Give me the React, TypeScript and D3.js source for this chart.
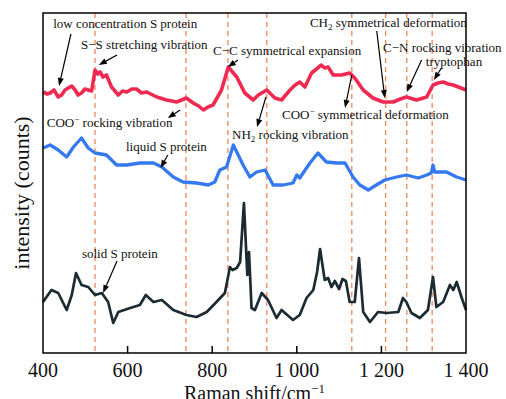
import * as d3 from "d3";

// Raman shift (cm^-1) and intensity readings for each spectrum
const redShift = [400, 410, 417, 426, 436, 444, 452, 468, 476, 483, 491, 499, 515, 523, 529, 535, 542, 550, 562, 578, 588, 598, 610, 621, 633, 645, 669, 692, 716, 739, 755, 768, 779, 790, 802, 822, 838, 858, 877, 897, 909, 929, 948, 964, 984, 996, 1007, 1019, 1035, 1058, 1066, 1074, 1086, 1106, 1125, 1137, 1157, 1180, 1204, 1228, 1245, 1259, 1283, 1307, 1322, 1334, 1346, 1358, 1370, 1382, 1394, 1400];
const redValue = [261, 259, 260, 263, 256, 258, 263, 267, 263, 258, 260, 264, 262, 283, 279, 281, 276, 278, 266, 258, 262, 261, 264, 264, 260, 261, 256, 253, 251, 255, 250, 247, 243, 246, 248, 263, 286, 276, 260, 253, 258, 263, 255, 253, 263, 268, 271, 266, 280, 288, 285, 286, 278, 278, 280, 275, 263, 255, 251, 251, 254, 256, 253, 256, 268, 270, 271, 269, 268, 266, 264, 263];

const blueShift = [400, 417, 436, 456, 472, 491, 507, 523, 550, 574, 598, 629, 661, 681, 708, 731, 763, 791, 806, 818, 834, 850, 873, 889, 905, 925, 944, 968, 991, 1000, 1007, 1031, 1050, 1070, 1094, 1114, 1133, 1149, 1169, 1188, 1208, 1236, 1259, 1287, 1307, 1318, 1322, 1326, 1354, 1378, 1400];
const blueValue = [205, 208, 203, 196, 206, 215, 205, 200, 198, 188, 188, 190, 190, 186, 176, 171, 170, 168, 171, 183, 186, 208, 188, 176, 181, 183, 168, 168, 170, 178, 175, 190, 200, 191, 190, 190, 176, 168, 163, 168, 173, 176, 178, 175, 178, 180, 188, 181, 181, 176, 173];

const blackShift = [400, 420, 436, 456, 468, 478, 491, 507, 523, 539, 554, 566, 578, 606, 629, 643, 661, 681, 708, 739, 763, 787, 810, 830, 842, 848, 858, 866, 875, 883, 887, 893, 901, 917, 932, 952, 964, 991, 1007, 1023, 1039, 1048, 1055, 1066, 1074, 1082, 1090, 1100, 1108, 1116, 1125, 1137, 1147, 1157, 1173, 1192, 1212, 1240, 1251, 1259, 1271, 1291, 1310, 1322, 1330, 1346, 1362, 1370, 1378, 1390, 1400];
const blackValue = [51, 63, 60, 43, 58, 80, 68, 66, 58, 60, 51, 30, 41, 45, 48, 58, 51, 53, 43, 38, 36, 41, 51, 60, 86, 83, 85, 91, 150, 78, 101, 45, 43, 60, 53, 35, 43, 33, 38, 55, 63, 81, 104, 73, 75, 66, 72, 64, 74, 72, 51, 51, 95, 41, 31, 41, 40, 41, 55, 51, 40, 35, 43, 76, 46, 51, 68, 63, 71, 55, 43];

const peakLines = [523, 738, 837, 929, 1130, 1210, 1260, 1320];
const xTicks = [400, 600, 800, 1000, 1200, 1400];

const W = 506;
const H = 399;
const margin = { top: 13, right: 40, bottom: 46, left: 43 };

const x = d3.scaleLinear().domain([400, 1400]).range([margin.left, W - margin.right]);
const y = d3.scaleLinear().domain([0, 340]).range([H - margin.bottom, margin.top]);

const line = d3
  .line<[number, number]>()
  .x((d) => x(d[0]))
  .y((d) => y(d[1]));

const zip = (a: number[], b: number[]) => a.map((v, i) => [v, b[i]] as [number, number]);

const series = [
  { name: "low concentration", pts: zip(redShift, redValue), color: "#ef2a52", width: 3.6 },
  { name: "liquid", pts: zip(blueShift, blueValue), color: "#3479ef", width: 3.3 },
  { name: "solid", pts: zip(blackShift, blackValue), color: "#1b2b31", width: 2.7 },
];

const fmt = (d: number) =>
  d >= 1000 ? `${Math.floor(d / 1000)} ${String(d % 1000).padStart(3, "0")}` : String(d);

type Part = { t: string; sup?: boolean; sub?: boolean };
type Note = {
  parts: Part[];
  tx: number;
  ty: number;
  from?: [number, number];
  to?: [number, number];
};

const notes: Note[] = [
  { parts: [{ t: "low concentration S protein" }], tx: 424, ty: 325, from: [466, 319], to: [438, 267] },
  { parts: [{ t: "S−S stretching vibration" }], tx: 490, ty: 304, from: [575, 298], to: [532, 288] },
  { parts: [{ t: "C−C symmetrical expansion" }], tx: 802, ty: 298, from: [861, 293], to: [837, 286] },
  { parts: [{ t: "CH" }, { t: "2", sub: true }, { t: " symmetrical deformation" }], tx: 1031, ty: 326, from: [1189, 322], to: [1208, 255] },
  { parts: [{ t: "C−N rocking vibration" }], tx: 1204, ty: 301, from: [1295, 293], to: [1260, 261] },
  { parts: [{ t: "tryptophan" }], tx: 1305, ty: 287, from: [1342, 285], to: [1324, 273] },
  { parts: [{ t: "COO" }, { t: "−", sup: true }, { t: " rocking vibration" }], tx: 409, ty: 226, from: [724, 243], to: [695, 235] },
  { parts: [{ t: "COO" }, { t: "−", sup: true }, { t: " symmetrical deformation" }], tx: 965, ty: 234, from: [1130, 278], to: [1114, 245] },
  { parts: [{ t: "NH" }, { t: "2", sub: true }, { t: " rocking vibration" }], tx: 847, ty: 214, from: [927, 256], to: [906, 226] },
  { parts: [{ t: "liquid S protein" }], tx: 596, ty: 202, from: [695, 198], to: [678, 185] },
  { parts: [{ t: "solid S protein" }], tx: 492, ty: 95, from: [575, 92], to: [542, 60] },
];

function Arrow({ from, to }: { from: [number, number]; to: [number, number] }) {
  const x1 = x(from[0]);
  const y1 = y(from[1]);
  const x2 = x(to[0]);
  const y2 = y(to[1]);
  const ang = Math.atan2(y2 - y1, x2 - x1);
  const len = 8;
  const half = 3;
  const bx = x2 - len * Math.cos(ang);
  const by = y2 - len * Math.sin(ang);
  const px = -Math.sin(ang) * half;
  const py = Math.cos(ang) * half;
  return (
    <g>
      <line x1={x1} y1={y1} x2={bx} y2={by} stroke="#000" strokeWidth={1.2} />
      <path d={`M${x2},${y2}L${bx + px},${by + py}L${bx - px},${by - py}Z`} fill="#000" />
    </g>
  );
}

function NoteText({ note }: { note: Note }) {
  let shift = 0;
  return (
    <text x={x(note.tx)} y={y(note.ty)} fontSize={13} fill="#111">
      {note.parts.map((p, i) => {
        let dy = 0;
        if (p.sup) dy = -5 - shift;
        else if (p.sub) dy = 3 - shift;
        else dy = -shift;
        shift += dy;
        return (
          <tspan key={i} dy={dy} fontSize={p.sup || p.sub ? 9 : 13}>
            {p.t}
          </tspan>
        );
      })}
    </text>
  );
}

export default function App() {
  const [x0, x1] = x.range();
  const [yb, yt] = y.range();
  return (
    <svg
      width={W}
      height={H}
      style={{ position: "absolute", left: 0, top: 0, background: "#fff" }}
      fontFamily="'Liberation Serif', 'Times New Roman', serif"
    >
      {peakLines.map((p) => (
        <line
          key={p}
          x1={x(p)}
          x2={x(p)}
          y1={yt}
          y2={yb}
          stroke="#f2875a"
          strokeWidth={1.3}
          strokeDasharray="5,4"
        />
      ))}

      {series.map((s) => (
        <path
          key={s.name}
          d={line(s.pts) ?? ""}
          fill="none"
          stroke={s.color}
          strokeWidth={s.width}
          strokeLinejoin="round"
        />
      ))}

      <rect x={x0} y={yt} width={x1 - x0} height={yb - yt} fill="none" stroke="#000" strokeWidth={1.5} />

      {xTicks.map((t) => (
        <g key={t}>
          {t > 400 && t < 1400 && (
            <line x1={x(t)} x2={x(t)} y1={yb} y2={yb - 7} stroke="#000" strokeWidth={1.5} />
          )}
          <text x={x(t)} y={yb + 24} textAnchor="middle" fontSize={20} fill="#111">
            {fmt(t)}
          </text>
        </g>
      ))}

      <text x={(x0 + x1) / 2} y={400} textAnchor="middle" fontSize={20} fill="#111">
        Raman shift/cm
        <tspan dy={-7} fontSize={13}>−1</tspan>
      </text>

      <text
        transform={`translate(29,${(yt + yb) / 2 + 10}) rotate(-90)`}
        textAnchor="middle"
        fontSize={22}
        fill="#111"
      >
        intensity (counts)
      </text>

      {notes.map((n, i) => (
        <g key={i}>
          <NoteText note={n} />
          {n.from && n.to && <Arrow from={n.from} to={n.to} />}
        </g>
      ))}
    </svg>
  );
}
